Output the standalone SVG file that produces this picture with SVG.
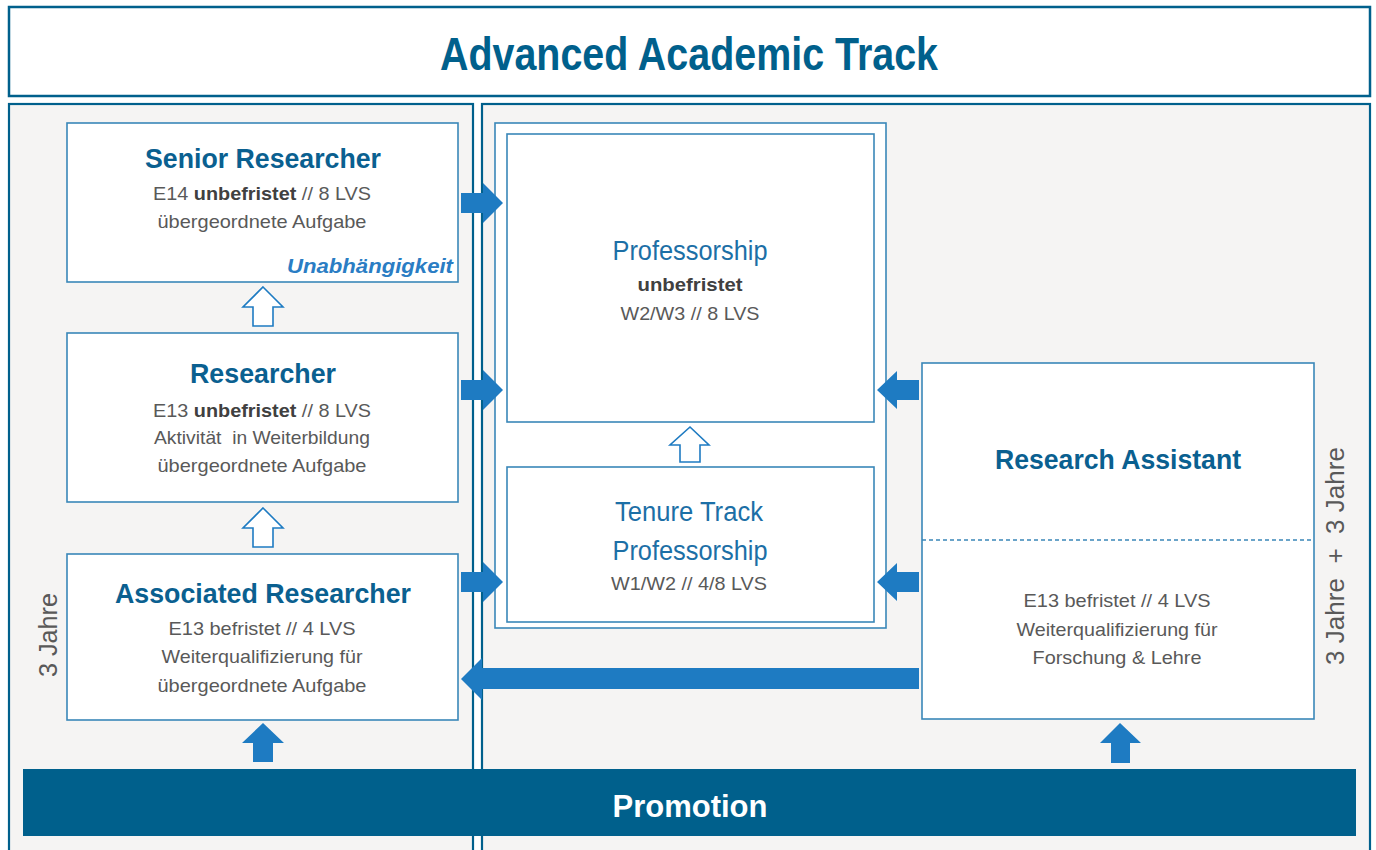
<svg xmlns="http://www.w3.org/2000/svg" width="1376" height="850" viewBox="0 0 1376 850">
<style>
.panel{fill:#f5f4f3;stroke:#00608c;stroke-width:2.2}
.box{fill:#fff;stroke:#3a87b8;stroke-width:1.6}
.arr{fill:#1e7bc2}
.harr{fill:#fff;stroke:#1e7bc2;stroke-width:1.6}
text{font-family:"Liberation Sans",Arial,sans-serif;text-anchor:middle}
.h{font-weight:bold;fill:#0a6090;font-size:28px}
.s{fill:#595959;font-size:19px}
.b{font-weight:bold;fill:#404040}
.p{fill:#1c6fa6;font-size:27px}
.v{fill:#595959;font-size:26px}
</style>
<rect width="1376" height="850" fill="#fff"/>
<g id="title">
<rect x="9" y="7" width="1361" height="89" fill="#fff" stroke="#00608c" stroke-width="2.5"/>
<text x="689" y="70" font-size="46" font-weight="bold" fill="#00608c" textLength="498" lengthAdjust="spacingAndGlyphs">Advanced Academic Track</text>
</g>
<g id="panels">
<rect class="panel" x="9" y="104" width="464" height="760"/>
<rect class="panel" x="482" y="104" width="888" height="760"/>
</g>
<g id="senior">
<rect class="box" x="67" y="123" width="391" height="159"/>
<text class="h" x="263" y="168" textLength="236" lengthAdjust="spacingAndGlyphs">Senior Researcher</text>
<text class="s" x="262" y="200" textLength="218" lengthAdjust="spacingAndGlyphs">E14 <tspan class="b">unbefristet</tspan> // 8 LVS</text>
<text class="s" x="262" y="228" textLength="209" lengthAdjust="spacingAndGlyphs">übergeordnete Aufgabe</text>
<text x="453" y="273" font-size="20" font-weight="bold" font-style="italic" fill="#2a7dc4" style="text-anchor:end" textLength="166" lengthAdjust="spacingAndGlyphs">Unabhängigkeit</text>
</g>
<g id="researcher">
<rect class="box" x="67" y="333" width="391" height="169"/>
<text class="h" x="263" y="383" textLength="146" lengthAdjust="spacingAndGlyphs">Researcher</text>
<text class="s" x="262" y="417" textLength="218" lengthAdjust="spacingAndGlyphs">E13 <tspan class="b">unbefristet</tspan> // 8 LVS</text>
<text class="s" x="262" y="444" textLength="216" lengthAdjust="spacingAndGlyphs">Aktivität&#160; in Weiterbildung</text>
<text class="s" x="262" y="472" textLength="209" lengthAdjust="spacingAndGlyphs">übergeordnete Aufgabe</text>
</g>
<g id="associated">
<rect class="box" x="67" y="554" width="391" height="166"/>
<text class="h" x="263" y="603" textLength="296" lengthAdjust="spacingAndGlyphs">Associated Researcher</text>
<text class="s" x="262" y="635" textLength="187" lengthAdjust="spacingAndGlyphs">E13 befristet // 4 LVS</text>
<text class="s" x="262" y="663" textLength="201" lengthAdjust="spacingAndGlyphs">Weiterqualifizierung für</text>
<text class="s" x="262" y="692" textLength="209" lengthAdjust="spacingAndGlyphs">übergeordnete Aufgabe</text>
</g>
<g id="professor-group">
<rect class="box" x="495" y="123" width="391" height="505"/>
</g>
<g id="professorship">
<rect class="box" x="507" y="134" width="367" height="288"/>
<text class="p" x="690" y="260" textLength="155" lengthAdjust="spacingAndGlyphs">Professorship</text>
<text class="s b" x="690" y="291" textLength="105" lengthAdjust="spacingAndGlyphs">unbefristet</text>
<text class="s" x="690" y="320" textLength="139" lengthAdjust="spacingAndGlyphs">W2/W3 // 8 LVS</text>
</g>
<g id="tenure">
<rect class="box" x="507" y="467" width="367" height="155"/>
<text class="p" x="689" y="521" textLength="148" lengthAdjust="spacingAndGlyphs">Tenure Track</text>
<text class="p" x="690" y="560" textLength="155" lengthAdjust="spacingAndGlyphs">Professorship</text>
<text class="s" x="689" y="590" textLength="156" lengthAdjust="spacingAndGlyphs">W1/W2 // 4/8 LVS</text>
</g>
<g id="research-assistant">
<rect class="box" x="922" y="363" width="392" height="356"/>
<line x1="922" y1="540" x2="1314" y2="540" stroke="#3a87b8" stroke-width="1.4" stroke-dasharray="4,3"/>
<text class="h" x="1118" y="469" textLength="246" lengthAdjust="spacingAndGlyphs">Research Assistant</text>
<text class="s" x="1117" y="607" textLength="187" lengthAdjust="spacingAndGlyphs">E13 befristet // 4 LVS</text>
<text class="s" x="1117" y="636" textLength="201" lengthAdjust="spacingAndGlyphs">Weiterqualifizierung für</text>
<text class="s" x="1117" y="664" textLength="169" lengthAdjust="spacingAndGlyphs">Forschung &amp; Lehre</text>
</g>
<g id="labels">
<text class="v" transform="translate(57,635) rotate(-90)" textLength="84" lengthAdjust="spacingAndGlyphs">3 Jahre</text>
<text class="v" transform="translate(1344,556) rotate(-90)" textLength="218" lengthAdjust="spacingAndGlyphs">3 Jahre&#160; +&#160; 3 Jahre</text>
</g>
<g id="connectors">
<polygon class="harr" points="263,287 283,307 273,307 273,326 253,326 253,307 243,307"/>
<polygon class="harr" points="263,508 283,528 273,528 273,547 253,547 253,528 243,528"/>
<polygon class="harr" points="690,427 709,445 700,445 700,462 680,462 680,445 670,445"/>
<polygon class="arr" points="461,193 483,193 483,183 503,203 483,223 483,213 461,213"/>
<polygon class="arr" points="461,380 483,380 483,370 503,390 483,410 483,400 461,400"/>
<polygon class="arr" points="461,572 483,572 483,562 503,582 483,602 483,592 461,592"/>
<polygon class="arr" points="919,380 897,380 897,371 877,390 897,409 897,400 919,400"/>
<polygon class="arr" points="919,572 897,572 897,563 877,582 897,601 897,592 919,592"/>
<polygon class="arr" points="919,668 482,668 482,658 461,679 482,700 482,689 919,689"/>
<polygon class="arr" points="263,723 284,743 273,743 273,762 253,762 253,743 242,743"/>
<polygon class="arr" points="1120,723 1141,743 1130,743 1130,763 1111,763 1111,743 1100,743"/>
</g>
<g id="promotion">
<rect x="23" y="769" width="1333" height="67" fill="#00608c"/>
<text x="690" y="817" font-size="32" font-weight="bold" fill="#fff" textLength="155" lengthAdjust="spacingAndGlyphs">Promotion</text>
</g>
</svg>
